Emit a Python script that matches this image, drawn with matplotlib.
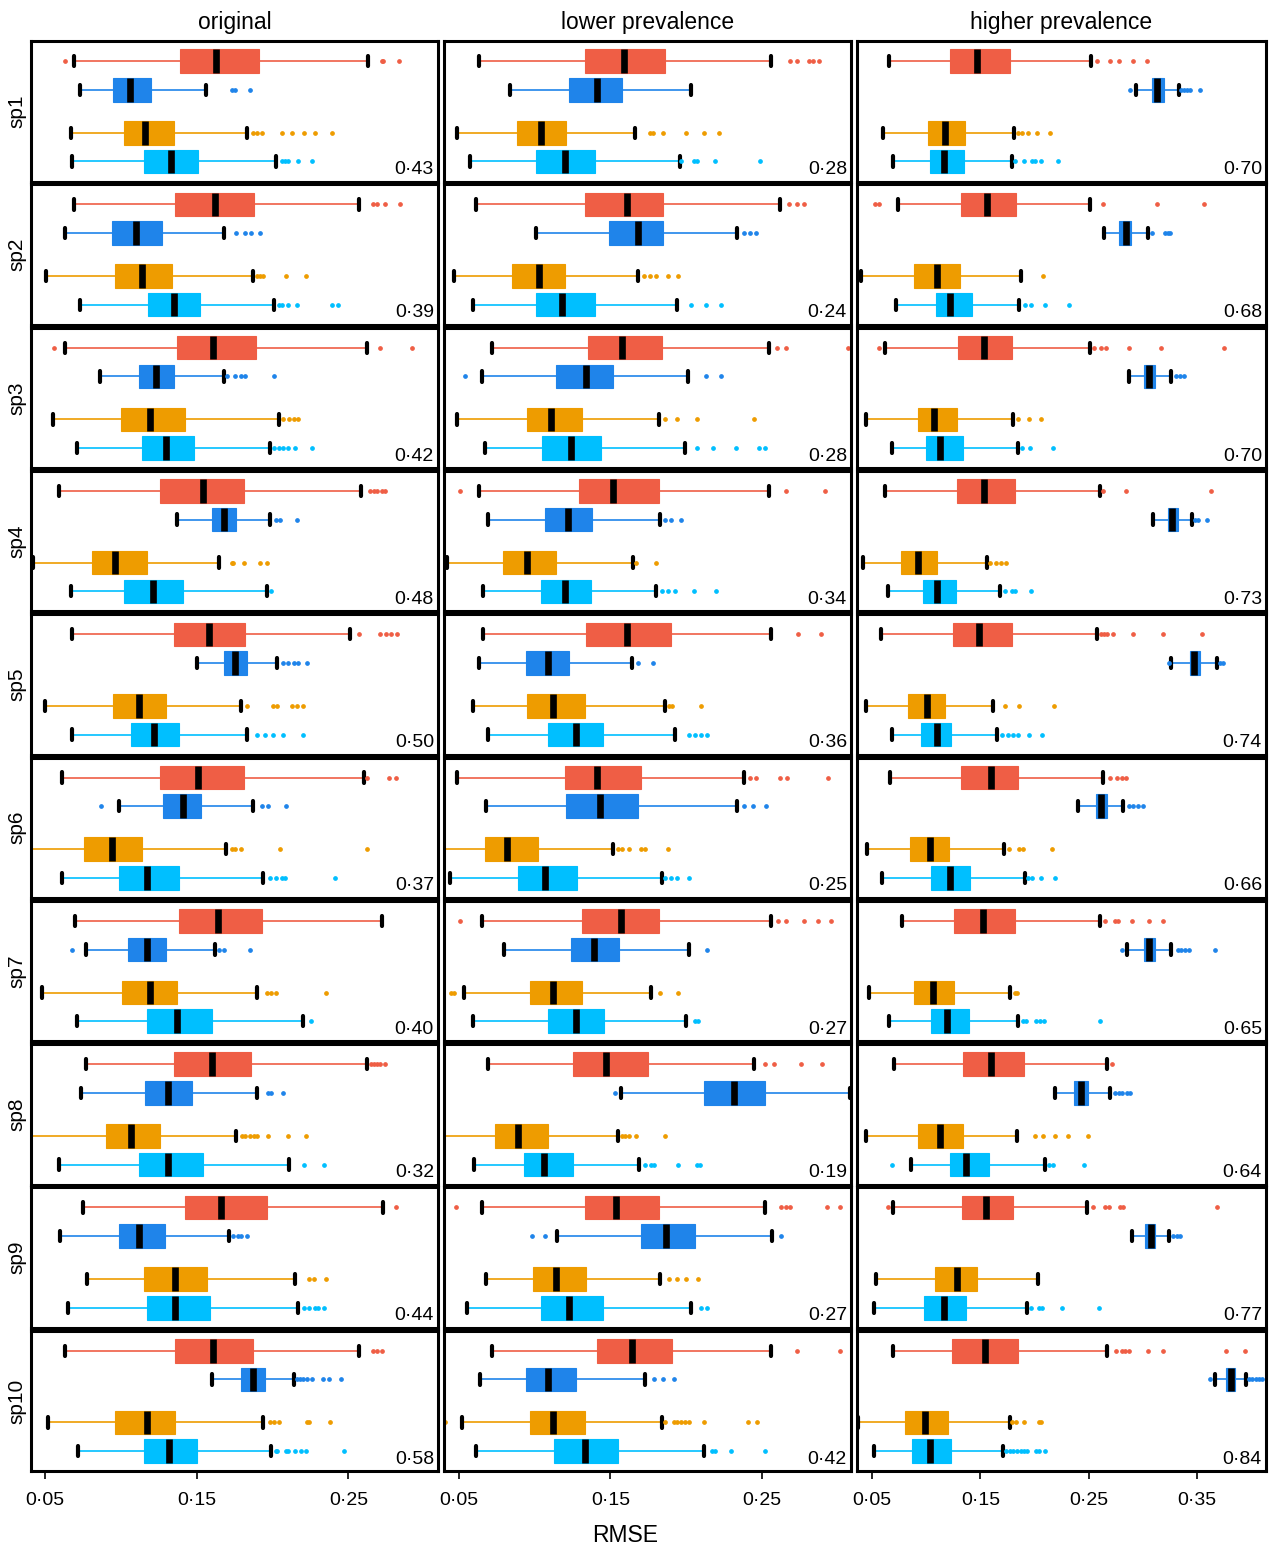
import matplotlib
matplotlib.use("Agg")
import matplotlib.pyplot as plt
from matplotlib.ticker import FuncFormatter

plt.rcParams["font.family"] = ["Liberation Sans", "DejaVu Sans"]

# ---- data: boxplot summaries [whislo, q1, median, q3, whishi] per species ----
species = ["sp1", "sp2", "sp3", "sp4", "sp5", "sp6", "sp7", "sp8", "sp9", "sp10"]
conditions = ["original", "lower prevalence", "higher prevalence"]

# original
orig_red = [[0.069, 0.139, 0.163, 0.191, 0.263], [0.069, 0.136, 0.162, 0.188, 0.257],
            [0.063, 0.137, 0.161, 0.189, 0.262], [0.059, 0.126, 0.154, 0.181, 0.258],
            [0.068, 0.135, 0.158, 0.182, 0.251], [0.061, 0.126, 0.151, 0.181, 0.260],
            [0.070, 0.138, 0.164, 0.193, 0.272], [0.077, 0.135, 0.160, 0.186, 0.262],
            [0.075, 0.142, 0.166, 0.196, 0.273], [0.063, 0.136, 0.161, 0.187, 0.257]]
orig_red_out = [[0.063, 0.272, 0.273, 0.283], [0.266, 0.269, 0.274, 0.284],
                [0.056, 0.271, 0.292], [0.264, 0.267, 0.269, 0.272, 0.274],
                [0.257, 0.271, 0.275, 0.278, 0.282], [0.262, 0.277, 0.281], [],
                [0.265, 0.267, 0.269, 0.271, 0.274], [0.281], [0.266, 0.269, 0.272]]
orig_blue = [[0.073, 0.095, 0.106, 0.120, 0.156], [0.063, 0.094, 0.110, 0.127, 0.168],
             [0.086, 0.112, 0.123, 0.135, 0.168], [0.137, 0.160, 0.168, 0.176, 0.198],
             [0.150, 0.168, 0.175, 0.183, 0.203], [0.099, 0.128, 0.141, 0.153, 0.187],
             [0.077, 0.105, 0.117, 0.130, 0.162], [0.074, 0.116, 0.131, 0.147, 0.190],
             [0.060, 0.099, 0.112, 0.129, 0.171], [0.160, 0.179, 0.187, 0.195, 0.214]]
orig_blue_out = [[0.173, 0.175, 0.185], [0.176, 0.182, 0.186, 0.192],
                 [0.170, 0.175, 0.179, 0.182, 0.201], [0.202, 0.205, 0.216],
                 [0.207, 0.210, 0.214, 0.217, 0.223], [0.087, 0.193, 0.197, 0.209],
                 [0.068, 0.165, 0.168, 0.185], [0.197, 0.199, 0.207],
                 [0.174, 0.177, 0.179, 0.183],
                 [0.216, 0.218, 0.220, 0.223, 0.226, 0.233, 0.237, 0.245]]
orig_orange = [[0.067, 0.102, 0.116, 0.135, 0.183], [0.051, 0.096, 0.114, 0.134, 0.187],
               [0.055, 0.100, 0.119, 0.142, 0.204], [0.042, 0.081, 0.096, 0.117, 0.165],
               [0.050, 0.095, 0.112, 0.130, 0.179], [0.035, 0.076, 0.094, 0.114, 0.169],
               [0.048, 0.101, 0.119, 0.137, 0.190], [0.035, 0.090, 0.107, 0.126, 0.176],
               [0.078, 0.115, 0.136, 0.157, 0.215], [0.052, 0.096, 0.117, 0.136, 0.194]]
orig_orange_out = [[0.187, 0.190, 0.193, 0.206, 0.213, 0.221, 0.228, 0.239],
                   [0.190, 0.192, 0.194, 0.209, 0.222], [0.207, 0.211, 0.214, 0.217],
                   [0.173, 0.174, 0.181, 0.192, 0.196],
                   [0.183, 0.200, 0.203, 0.213, 0.216, 0.220],
                   [0.173, 0.175, 0.179, 0.205, 0.262], [0.196, 0.199, 0.202, 0.235],
                   [0.180, 0.182, 0.185, 0.188, 0.190, 0.197, 0.210, 0.222],
                   [0.224, 0.227, 0.235], [0.198, 0.201, 0.204, 0.223, 0.224, 0.238]]
orig_cyan = [[0.068, 0.115, 0.133, 0.151, 0.202], [0.073, 0.118, 0.135, 0.152, 0.201],
             [0.071, 0.114, 0.130, 0.148, 0.198], [0.067, 0.102, 0.121, 0.141, 0.196],
             [0.068, 0.107, 0.122, 0.138, 0.183], [0.061, 0.099, 0.117, 0.138, 0.194],
             [0.071, 0.117, 0.137, 0.160, 0.220], [0.059, 0.112, 0.131, 0.154, 0.211],
             [0.065, 0.117, 0.136, 0.159, 0.217], [0.072, 0.115, 0.132, 0.150, 0.199]]
orig_cyan_out = [[0.206, 0.208, 0.210, 0.217, 0.226], [0.204, 0.206, 0.210, 0.216, 0.239, 0.243],
                 [0.201, 0.204, 0.207, 0.210, 0.215, 0.226], [0.199],
                 [0.190, 0.195, 0.200, 0.207, 0.220], [0.198, 0.202, 0.206, 0.208, 0.241],
                 [0.225], [0.221, 0.234], [0.221, 0.224, 0.228, 0.230, 0.234],
                 [0.202, 0.203, 0.209, 0.210, 0.215, 0.219, 0.222, 0.247]]

# lower prevalence
low_red = [[0.063, 0.133, 0.159, 0.186, 0.256], [0.061, 0.133, 0.161, 0.185, 0.262],
           [0.072, 0.135, 0.158, 0.184, 0.255], [0.063, 0.129, 0.152, 0.182, 0.255],
           [0.066, 0.134, 0.161, 0.190, 0.256], [0.049, 0.120, 0.141, 0.170, 0.238],
           [0.065, 0.131, 0.157, 0.182, 0.256], [0.069, 0.125, 0.147, 0.175, 0.245],
           [0.065, 0.133, 0.154, 0.182, 0.252], [0.072, 0.141, 0.164, 0.191, 0.256]]
low_red_out = [[0.269, 0.273, 0.281, 0.284, 0.288], [0.268, 0.273, 0.278],
               [0.260, 0.266, 0.307], [0.051, 0.266, 0.292], [0.274, 0.289],
               [0.242, 0.246, 0.262, 0.267, 0.294], [0.051, 0.261, 0.266, 0.278, 0.287, 0.296],
               [0.252, 0.258, 0.276, 0.290], [0.048, 0.263, 0.266, 0.269, 0.293, 0.302],
               [0.273, 0.302]]
low_blue = [[0.084, 0.123, 0.141, 0.158, 0.203], [0.101, 0.149, 0.168, 0.185, 0.234],
            [0.065, 0.114, 0.134, 0.152, 0.201], [0.069, 0.107, 0.122, 0.138, 0.183],
            [0.063, 0.094, 0.109, 0.123, 0.164], [0.068, 0.121, 0.143, 0.168, 0.234],
            [0.080, 0.124, 0.139, 0.156, 0.202], [0.157, 0.212, 0.232, 0.252, 0.3085],
            [0.115, 0.170, 0.187, 0.206, 0.257], [0.064, 0.094, 0.109, 0.127, 0.173]]
low_blue_out = [[], [0.238, 0.242, 0.246], [0.054, 0.213, 0.223], [0.186, 0.190, 0.197],
                [0.168, 0.178], [0.238, 0.244, 0.253], [0.214], [0.153],
                [0.098, 0.107, 0.263], [0.179, 0.185, 0.192]]
low_orange = [[0.049, 0.088, 0.104, 0.121, 0.166], [0.047, 0.085, 0.103, 0.120, 0.168],
              [0.049, 0.095, 0.111, 0.131, 0.182], [0.042, 0.079, 0.095, 0.114, 0.165],
              [0.059, 0.095, 0.112, 0.133, 0.186], [0.035, 0.067, 0.082, 0.102, 0.152],
              [0.053, 0.097, 0.112, 0.131, 0.177], [0.035, 0.074, 0.089, 0.109, 0.155],
              [0.068, 0.099, 0.114, 0.134, 0.183], [0.052, 0.097, 0.112, 0.133, 0.184]]
low_orange_out = [[0.176, 0.178, 0.185, 0.200, 0.212, 0.222],
                  [0.172, 0.176, 0.180, 0.188, 0.195], [0.186, 0.194, 0.207, 0.245],
                  [0.167, 0.180], [0.189, 0.191, 0.210],
                  [0.155, 0.158, 0.162, 0.170, 0.173, 0.188], [0.045, 0.047, 0.183, 0.195],
                  [0.158, 0.160, 0.162, 0.167, 0.186], [0.189, 0.194, 0.200, 0.208],
                  [0.041, 0.186, 0.192, 0.194, 0.197, 0.199, 0.202, 0.212, 0.241, 0.247]]
low_cyan = [[0.057, 0.101, 0.120, 0.140, 0.196], [0.059, 0.101, 0.118, 0.140, 0.194],
            [0.067, 0.105, 0.124, 0.144, 0.199], [0.066, 0.104, 0.120, 0.137, 0.180],
            [0.069, 0.109, 0.127, 0.145, 0.193], [0.044, 0.089, 0.107, 0.128, 0.184],
            [0.059, 0.109, 0.127, 0.146, 0.200], [0.060, 0.093, 0.106, 0.125, 0.169],
            [0.055, 0.104, 0.123, 0.145, 0.203], [0.061, 0.113, 0.133, 0.155, 0.212]]
low_cyan_out = [[0.197, 0.205, 0.207, 0.219, 0.249], [0.203, 0.213, 0.223],
                [0.207, 0.218, 0.233, 0.248, 0.252], [0.184, 0.188, 0.193, 0.205, 0.220],
                [0.202, 0.206, 0.210, 0.214], [0.186, 0.190, 0.194, 0.202], [0.206, 0.208],
                [0.173, 0.177, 0.179, 0.195, 0.207, 0.209], [0.210, 0.214],
                [0.217, 0.219, 0.230, 0.252]]

# higher prevalence
high_red = [[0.066, 0.122, 0.147, 0.177, 0.252], [0.074, 0.132, 0.156, 0.183, 0.251],
            [0.062, 0.129, 0.153, 0.179, 0.251], [0.062, 0.128, 0.153, 0.182, 0.260],
            [0.058, 0.125, 0.149, 0.179, 0.258], [0.067, 0.132, 0.160, 0.185, 0.263],
            [0.078, 0.126, 0.152, 0.182, 0.260], [0.070, 0.134, 0.160, 0.190, 0.267],
            [0.069, 0.133, 0.155, 0.180, 0.248], [0.069, 0.124, 0.154, 0.185, 0.267]]
high_red_out = [[0.258, 0.270, 0.278, 0.291, 0.304], [0.053, 0.056, 0.263, 0.313, 0.356],
                [0.056, 0.255, 0.261, 0.266, 0.287, 0.317, 0.375], [0.263, 0.284, 0.363],
                [0.261, 0.264, 0.267, 0.272, 0.291, 0.318, 0.354], [0.270, 0.276, 0.281, 0.284],
                [0.265, 0.274, 0.277, 0.290, 0.306, 0.318], [0.271],
                [0.065, 0.254, 0.265, 0.269, 0.279, 0.282, 0.368],
                [0.275, 0.281, 0.283, 0.287, 0.305, 0.318, 0.377, 0.394]]
high_blue = [[0.294, 0.308, 0.313, 0.319, 0.333], [0.264, 0.278, 0.284, 0.289, 0.305],
             [0.287, 0.301, 0.306, 0.311, 0.326], [0.309, 0.323, 0.327, 0.332, 0.345],
             [0.326, 0.343, 0.347, 0.353, 0.368], [0.240, 0.257, 0.261, 0.267, 0.282],
             [0.285, 0.301, 0.306, 0.311, 0.326], [0.219, 0.236, 0.243, 0.249, 0.270],
             [0.290, 0.302, 0.307, 0.311, 0.324], [0.366, 0.377, 0.381, 0.385, 0.395]]
high_blue_out = [[0.288, 0.335, 0.338, 0.341, 0.343, 0.353], [0.308, 0.320, 0.323, 0.325],
                 [0.330, 0.334, 0.338], [0.348, 0.351, 0.359], [0.324, 0.371, 0.374],
                 [0.287, 0.291, 0.295, 0.300], [0.281, 0.332, 0.335, 0.339, 0.342, 0.366],
                 [0.274, 0.278, 0.281, 0.285, 0.288], [0.328, 0.331, 0.334],
                 [0.362, 0.398, 0.401, 0.404, 0.407, 0.410]]
high_orange = [[0.060, 0.102, 0.117, 0.136, 0.181], [0.040, 0.089, 0.110, 0.131, 0.187],
               [0.044, 0.092, 0.107, 0.128, 0.180], [0.042, 0.077, 0.092, 0.110, 0.156],
               [0.044, 0.083, 0.101, 0.117, 0.162], [0.045, 0.085, 0.103, 0.121, 0.172],
               [0.047, 0.089, 0.106, 0.126, 0.177], [0.044, 0.092, 0.113, 0.134, 0.184],
               [0.054, 0.108, 0.128, 0.147, 0.203], [0.037, 0.080, 0.099, 0.120, 0.177]]
high_orange_out = [[0.185, 0.188, 0.194, 0.202, 0.214], [0.208], [0.185, 0.195, 0.206],
                   [0.159, 0.164, 0.169, 0.174], [0.173, 0.186, 0.218],
                   [0.176, 0.186, 0.189, 0.216], [0.182, 0.184],
                   [0.200, 0.208, 0.219, 0.231, 0.249], [],
                   [0.179, 0.183, 0.190, 0.204, 0.206]]
high_cyan = [[0.069, 0.103, 0.116, 0.135, 0.179], [0.072, 0.109, 0.122, 0.142, 0.186],
             [0.068, 0.100, 0.113, 0.134, 0.185], [0.065, 0.097, 0.110, 0.127, 0.168],
             [0.068, 0.095, 0.110, 0.123, 0.165], [0.059, 0.104, 0.122, 0.140, 0.191],
             [0.066, 0.104, 0.119, 0.139, 0.185], [0.086, 0.122, 0.137, 0.158, 0.210],
             [0.052, 0.098, 0.116, 0.137, 0.193], [0.052, 0.087, 0.103, 0.123, 0.171]]
high_cyan_out = [[0.182, 0.190, 0.198, 0.200, 0.206, 0.222], [0.191, 0.197, 0.210, 0.232],
                 [0.188, 0.196, 0.217], [0.173, 0.179, 0.182, 0.197],
                 [0.170, 0.175, 0.180, 0.185, 0.195, 0.207], [0.194, 0.198, 0.206, 0.219],
                 [0.189, 0.192, 0.201, 0.205, 0.209, 0.260], [0.068, 0.213, 0.217, 0.246],
                 [0.197, 0.204, 0.207, 0.225, 0.259],
                 [0.174, 0.177, 0.180, 0.184, 0.187, 0.190, 0.193, 0.201, 0.204, 0.210]]

# numbers printed in the bottom-right of each panel
orig_score = [0.43, 0.39, 0.42, 0.48, 0.50, 0.37, 0.40, 0.32, 0.44, 0.58]
low_score = [0.28, 0.24, 0.28, 0.34, 0.36, 0.25, 0.27, 0.19, 0.27, 0.42]
high_score = [0.70, 0.68, 0.70, 0.73, 0.74, 0.66, 0.65, 0.64, 0.77, 0.84]

method_colors = ["#EF5E45", "#1F84EA", "#EE9C00", "#00BFFF"]
method_pos = [4.5, 3.5, 2.0, 1.0]

columns = [
    ([orig_red, orig_blue, orig_orange, orig_cyan],
     [orig_red_out, orig_blue_out, orig_orange_out, orig_cyan_out], orig_score),
    ([low_red, low_blue, low_orange, low_cyan],
     [low_red_out, low_blue_out, low_orange_out, low_cyan_out], low_score),
    ([high_red, high_blue, high_orange, high_cyan],
     [high_red_out, high_blue_out, high_orange_out, high_cyan_out], high_score),
]
col_xlim = [(0.0408, 0.309), (0.0401, 0.309), (0.0361, 0.4135)]
col_ticks = [[0.05, 0.15, 0.25], [0.05, 0.15, 0.25], [0.05, 0.15, 0.25, 0.35]]

# ---- layout (pixel based) ----
W, H = 1269, 1547
fig = plt.figure(figsize=(W / 100, H / 100), dpi=100)
col_left = [31, 444, 857]
col_width = [407, 407, 409]
row_top0, row_pitch, row_h = 41, 143.3, 140.5

dot = lambda v: f"{v:.2f}".replace(".", "\u00b7")

for j, (stats_list, out_list, scores) in enumerate(columns):
    for i, sp in enumerate(species):
        top = row_top0 + i * row_pitch
        ax = fig.add_axes([col_left[j] / W, 1 - (top + row_h) / H,
                           col_width[j] / W, row_h / H])
        for k in range(4):
            lo, q1, med, q3, hi = stats_list[k][i]
            c = method_colors[k]
            st = dict(whislo=lo, q1=q1, med=med, q3=q3, whishi=hi,
                      fliers=out_list[k][i])
            ax.bxp([st], positions=[method_pos[k]], widths=0.82,
                   orientation="horizontal", patch_artist=True,
                   capwidths=0.36,
                   boxprops=dict(facecolor=c, edgecolor=c, linewidth=0.8),
                   whiskerprops=dict(color=c, linewidth=1.2),
                   capprops=dict(color="black", linewidth=3.0,
                                 solid_capstyle="round"),
                   medianprops=dict(color="black", linewidth=4.8,
                                    solid_capstyle="butt"),
                   flierprops=dict(marker="o", markersize=2.4,
                                   markerfacecolor=c, markeredgecolor=c,
                                   linestyle="none"))
        ax.set_xlim(*col_xlim[j])
        ax.set_ylim(0.3, 5.2)
        ax.set_yticks([])
        for s in ax.spines.values():
            s.set_linewidth(2.2)
        ax.text(0.99, 0.025, dot(scores[i]), transform=ax.transAxes,
                ha="right", va="bottom", fontsize=14)
        if i == 9:
            ax.set_xticks(col_ticks[j])
            ax.xaxis.set_major_formatter(FuncFormatter(lambda v, p: dot(v)))
            ax.tick_params(axis="x", length=6, width=1.2, labelsize=14, pad=9)
        else:
            ax.set_xticks([])
        if i == 0:
            ax.set_title(conditions[j], fontsize=16.5, pad=9)
        if j == 0:
            ax.set_ylabel(sp, fontsize=15)
            ax.yaxis.set_label_coords(-0.012, 0.5)

fig.text(625 / W, 1 - 1535 / H, "RMSE", ha="center", va="center", fontsize=16.5)

fig.savefig("out.png", dpi=100)
